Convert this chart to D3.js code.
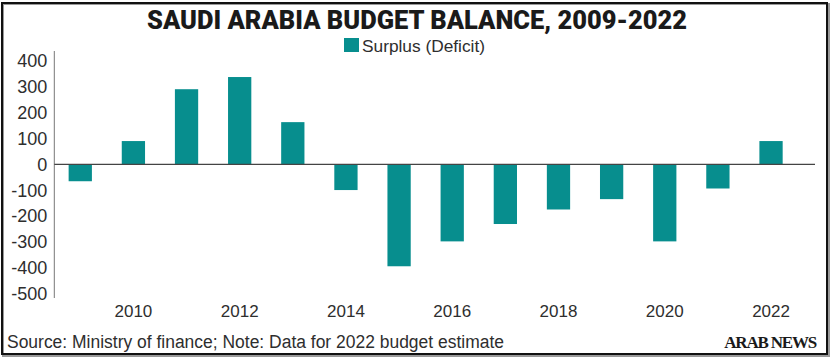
<!DOCTYPE html>
<html>
<head>
<meta charset="utf-8">
<script src="https://cdn.jsdelivr.net/npm/d3@7"></script>
<style>
  html, body { margin: 0; padding: 0; background: #fff; }
  svg { display: block; }
</style>
</head>
<body>
<script>
const years = [2009, 2010, 2011, 2012, 2013, 2014, 2015, 2016, 2017, 2018, 2019, 2020, 2021, 2022];
const balance = [-65, 90, 290, 337, 163, -99, -393, -297, -230, -174, -134, -297, -93, 90];
const yTicks = [400, 300, 200, 100, 0, -100, -200, -300, -400, -500];
const xTickYears = [2010, 2012, 2014, 2016, 2018, 2020, 2022];
const titleText = "SAUDI ARABIA BUDGET BALANCE, 2009-2022";
const legendLabel = "Surplus (Deficit)";
const sourceText = "Source: Ministry of finance; Note: Data for 2022 budget estimate";
const brandText = "ARAB NEWS";

const W = 834, H = 360;
const teal = "#078e8e";
const textCol = "#2e2e2e";

const svg = d3.select("body").append("svg").attr("width", W).attr("height", H);

// frame
svg.append("rect").attr("x", 3).attr("y", 4).attr("width", 826).attr("height", 352)
  .attr("fill", "none").attr("stroke", "#999").attr("stroke-width", 2);
svg.append("rect").attr("x", 2).attr("y", 3).attr("width", 825).attr("height", 351)
  .attr("fill", "none").attr("stroke", "#111").attr("stroke-width", 2);

const x = d3.scaleBand().domain(years).range([53.7, 797.6]).paddingInner(0.562).paddingOuter(0.281);
const y = d3.scaleLinear().domain([-500, 400]).range([294, 60.7]);

// title
svg.append("text").attr("x", 417).attr("y", 29).attr("text-anchor", "middle")
  .attr("font-family", "Roboto, 'DejaVu Sans', sans-serif").attr("font-weight", 900)
  .attr("font-size", 25).attr("fill", "#1a1a1a")
  .attr("textLength", 540).attr("lengthAdjust", "spacingAndGlyphs")
  .text(titleText);

// legend
svg.append("rect").attr("x", 344).attr("y", 38).attr("width", 15).attr("height", 14).attr("fill", teal);
svg.append("text").attr("x", 362).attr("y", 51.5)
  .attr("font-family", "'Liberation Sans', Arial, sans-serif").attr("font-size", 17)
  .attr("fill", textCol).attr("textLength", 123).attr("lengthAdjust", "spacingAndGlyphs")
  .text(legendLabel);

// y axis
const yAxis = d3.axisLeft(y).tickValues(yTicks).tickSize(0).tickPadding(7).tickFormat(d3.format("d"));
const gy = svg.append("g").attr("transform", "translate(54.3,0)").call(yAxis);
gy.select(".domain").remove();
gy.selectAll("text").attr("font-family", "'Liberation Sans', Arial, sans-serif")
  .attr("font-size", 18).attr("fill", textCol).text(d => d < 0 ? "-" + Math.abs(d) : d);
svg.append("line").attr("x1", 54.3).attr("x2", 54.3).attr("y1", 51).attr("y2", 298)
  .attr("stroke", "#777").attr("stroke-width", 1);

// bars
svg.append("g").selectAll("rect").data(years).join("rect")
  .attr("x", (d) => x(d))
  .attr("width", x.bandwidth())
  .attr("y", (d, i) => y(Math.max(0, balance[i])))
  .attr("height", (d, i) => Math.abs(y(balance[i]) - y(0)))
  .attr("fill", teal);

// zero line
svg.append("line").attr("x1", 54.3).attr("x2", 815).attr("y1", y(0)).attr("y2", y(0))
  .attr("stroke", "#444").attr("stroke-width", 1.2);

// x axis labels
const xAxis = d3.axisBottom(x).tickValues(xTickYears).tickSize(0).tickPadding(0);
const gx = svg.append("g").attr("transform", "translate(0,305)").call(xAxis);
gx.select(".domain").remove();
gx.selectAll("text").attr("font-family", "'Liberation Sans', Arial, sans-serif")
  .attr("font-size", 17).attr("fill", textCol).attr("dy", "0.7em");

// source
svg.append("text").attr("x", 7).attr("y", 347.5)
  .attr("font-family", "'Liberation Sans', Arial, sans-serif").attr("font-size", 18)
  .attr("fill", textCol).attr("textLength", 497).attr("lengthAdjust", "spacingAndGlyphs")
  .text(sourceText);

// brand
svg.append("text").attr("x", 816).attr("y", 348).attr("text-anchor", "end")
  .attr("font-family", "'Liberation Serif', 'DejaVu Serif', serif").attr("font-weight", 700)
  .attr("font-size", 17).attr("letter-spacing", -1.2).attr("fill", "#1a1a1a")
  .text(brandText);
</script>
</body>
</html>
